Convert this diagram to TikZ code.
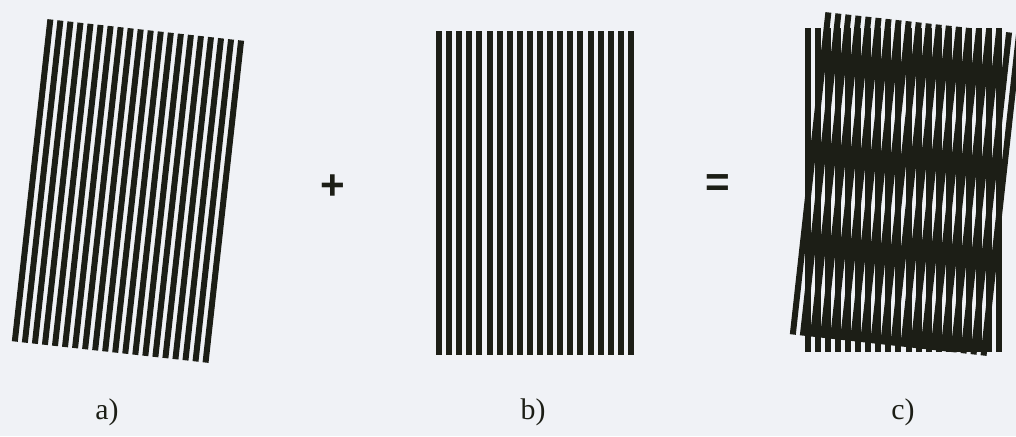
\documentclass[tikz,border=0pt]{standalone}
\usepackage{fontspec}
\setmainfont{Liberation Serif}
\newfontfamily\signfont{Liberation Sans}
\usetikzlibrary{positioning}
\definecolor{paper}{RGB}{240,242,246}
\definecolor{ink}{RGB}{28,30,22}
\tikzset{
  bar/.style={fill=ink},
  lbl/.style={font=\fontsize{17}{19}\selectfont, text=ink, inner sep=0pt},
  sign/.style={font=\signfont\bfseries\fontsize{24}{26}\selectfont, text=ink, inner sep=0pt},
}
% one grating: 20 bars, centred on the origin
\newcommand{\gratingbars}{%
  \foreach \i in {0,...,19}
    \fill[bar] ({-99+\i*10.1},-162) rectangle ++(6,324);
}

\begin{document}
\begin{tikzpicture}[x=0.02cm, y=-0.02cm]

  \fill[paper] (0,0) rectangle (1016,436);
  \useasboundingbox (0,0) rectangle (1016,436);

  % a) tilted grating
  \begin{scope}[shift={(128,191)}, rotate=-6.3]
    \gratingbars
  \end{scope}

  % b) upright grating
  \begin{scope}[shift={(535,193)}]
    \gratingbars
  \end{scope}

  % c) both laid over each other
  \begin{scope}[shift={(903.5,189.5)}]
    \gratingbars
  \end{scope}
  \begin{scope}[shift={(906,184)}, rotate=-6.3]
    \gratingbars
  \end{scope}

  \node[sign] (plus) at (333,187) {+};
  \node[sign] (eq)   at (718,186) {=};

  \node[lbl] (la) at (107,412) {a)};
  \node[lbl] (lb) at (533,412) {b)};
  \node[lbl] (lc) at (903,412) {c)};

\end{tikzpicture}
\end{document}
